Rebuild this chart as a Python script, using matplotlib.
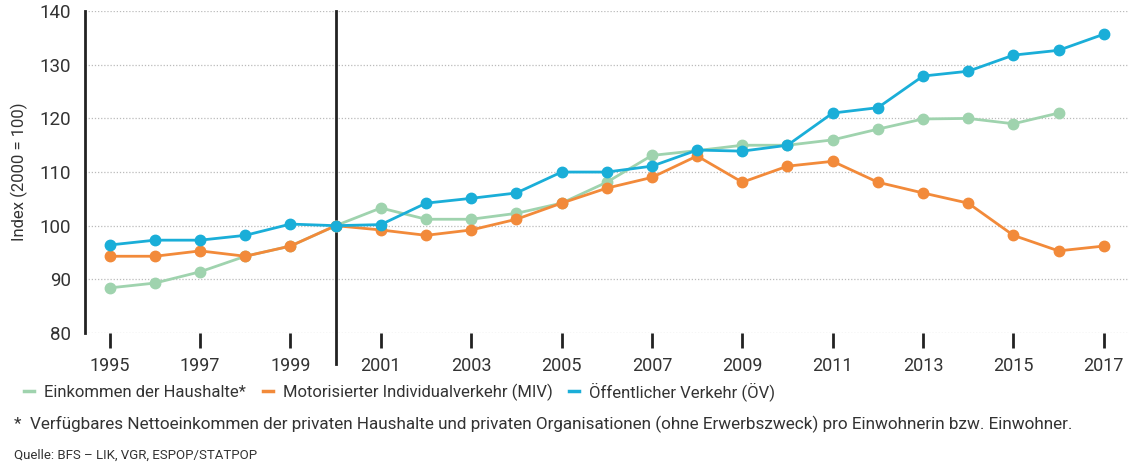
import matplotlib
matplotlib.use("Agg")
import matplotlib.pyplot as plt
from matplotlib.lines import Line2D

plt.rcParams['font.family'] = ['Roboto', 'DejaVu Sans']

years = list(range(1995, 2018))
einkommen = [88.4, 89.3, 91.4, 94.3, 96.2, 100.0, 103.3, 101.2, 101.2, 102.3, 104.2, 108.1,
             113.1, 114.0, 115.0, 115.0, 116.0, 118.0, 119.9, 120.0, 119.0, 121.0, None]
miv = [94.3, 94.3, 95.3, 94.3, 96.2, 100.0, 99.2, 98.2, 99.2, 101.2, 104.2, 107.0,
       109.0, 113.0, 108.1, 111.1, 112.0, 108.1, 106.1, 104.2, 98.2, 95.3, 96.2]
oev = [96.4, 97.3, 97.3, 98.2, 100.3, 100.0, 100.2, 104.2, 105.1, 106.1, 110.0, 110.0,
       111.1, 114.1, 113.9, 115.0, 121.0, 122.0, 127.9, 128.8, 131.8, 132.7, 135.7]

labels = ["Einkommen der Haushalte*", "Motorisierter Individualverkehr (MIV)",
          "Öffentlicher Verkehr (ÖV)"]
colors = ["#9fd3ae", "#f28a3a", "#1aaed8"]
xticks = list(range(1995, 2018, 2))
yticks = [80, 90, 100, 110, 120, 130, 140]

text_col = "#333333"

fig = plt.figure(figsize=(11.32, 4.65), dpi=100)
ax = fig.add_axes([0.075, 0.284, 0.922, 0.692])

for series, c in zip([einkommen, miv, oev], colors):
    xs = [y for y, v in zip(years, series) if v is not None]
    vs = [v for v in series if v is not None]
    ax.plot(xs, vs, color=c, lw=2, marker='o', ms=7.5, zorder=3)

ax.set_xlim(1994.45, 2017.55)
ax.set_ylim(80, 140)
ax.set_yticks(yticks)
ax.set_xticks(xticks)
ax.set_xticklabels([str(x) for x in xticks])
ax.grid(axis='y', color='#bbbbbb', linestyle=(0, (1, 1.5)), lw=0.9)
ax.grid(axis='x', visible=False)

for s in ['top', 'right', 'bottom']:
    ax.spines[s].set_visible(False)
ax.spines['left'].set_linewidth(2)
ax.spines['left'].set_color('#222222')

ax.axvline(2000, ymin=-0.095, ymax=1, color='#222222', lw=2, clip_on=False, zorder=2)

ax.tick_params(axis='x', direction='out', length=11, width=2, color='#222222',
               labelsize=13, labelcolor=text_col, pad=6)
ax.tick_params(axis='y', length=0, labelsize=13.5, labelcolor=text_col, pad=10)
ax.set_ylabel("Index (2000 = 100)", fontsize=12, color=text_col, labelpad=8)

handles = [Line2D([0], [0], color=c, lw=2.5) for c in colors]
fig.legend(handles, labels, loc='center left', bbox_to_anchor=(0.008, 0.158),
           ncol=3, frameon=False, fontsize=12, handlelength=0.6, handletextpad=0.6,
           columnspacing=1.0, labelcolor=text_col)

fig.text(0.012, 0.088, "*  Verfügbares Nettoeinkommen der privaten Haushalte und privaten "
         "Organisationen (ohne Erwerbszweck) pro Einwohnerin bzw. Einwohner.",
         fontsize=12.3, color=text_col, va='center')
fig.text(0.012, 0.022, "Quelle: BFS – LIK, VGR, ESPOP/STATPOP", fontsize=9.5,
         color=text_col, va='center')

fig.savefig("out.png", dpi=100)
